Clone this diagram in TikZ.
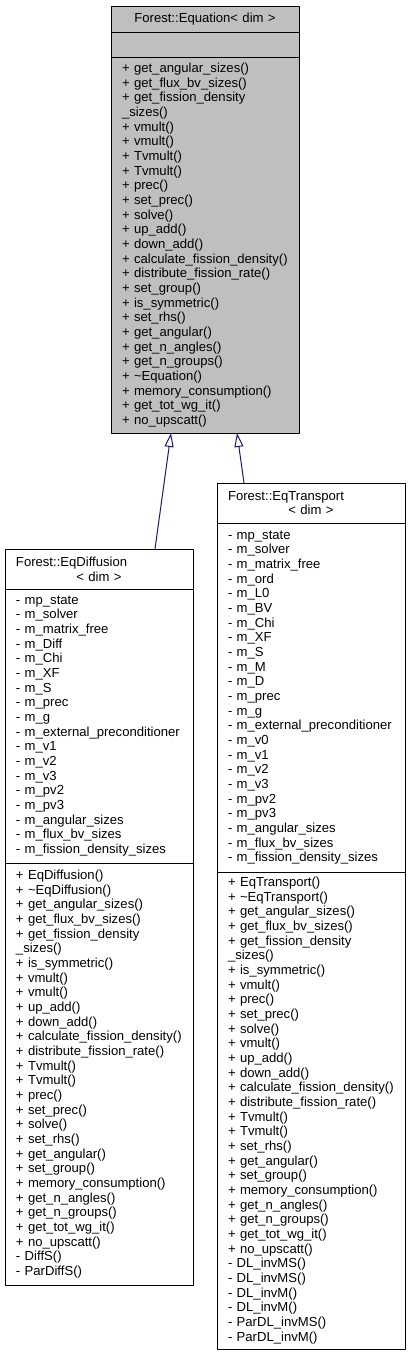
\documentclass[tikz,border=0pt]{standalone}
\usepackage{fontspec}
\setmainfont{Liberation Sans}
\usetikzlibrary{positioning,arrows.meta}
\definecolor{boxgray}{HTML}{BFBFBF}
\definecolor{edgeblue}{HTML}{191970}

\begin{document}
\begin{tikzpicture}[x=1pt, y=-1pt, line join=round,
	font=\fontsize{13.1}{14.67}\selectfont,
	part/.style={draw=black, line width=1pt, minimum width=188pt, inner xsep=11pt, inner ysep=0pt, outer sep=0pt, text width=166pt, align=left},
	head/.style={part, align=center},
	inherit/.style={draw=edgeblue, line width=1pt, -{Triangle[open, length=14pt, width=9pt]}}]
	\useasboundingbox (0,0) rectangle (411,1357);

	% Base class Forest::Equation
	\node[head, fill=boxgray, anchor=north, minimum height=26pt] (eqT) at (205,6) {Forest::Equation< dim >};
	\node[part, fill=boxgray, below=0pt of eqT, minimum height=25pt] (eqA) {};
	\node[part, fill=boxgray, below=0pt of eqA, minimum height=376pt] (eqM) {+~get\_angular\_sizes()\\+~get\_flux\_bv\_sizes()\\+~get\_fission\_density\\\_sizes()\\+~vmult()\\+~vmult()\\+~Tvmult()\\+~Tvmult()\\+~prec()\\+~set\_prec()\\+~solve()\\+~up\_add()\\+~down\_add()\\+~calculate\_fission\_density()\\+~distribute\_fission\_rate()\\+~set\_group()\\+~is\_symmetric()\\+~set\_rhs()\\+~get\_angular()\\+~get\_n\_angles()\\+~get\_n\_groups()\\+~\textasciitilde Equation()\\+~memory\_consumption()\\+~get\_tot\_wg\_it()\\+~no\_upscatt()};

	% Derived class Forest::EqDiffusion
	\node[head, anchor=north, minimum height=40pt] (difT) at (99,549) {\makebox[166pt][l]{Forest::EqDiffusion}\\< dim >};
	\node[part, below=0pt of difT, minimum height=274pt] (difA) {-~mp\_state\\-~m\_solver\\-~m\_matrix\_free\\-~m\_Diff\\-~m\_Chi\\-~m\_XF\\-~m\_S\\-~m\_prec\\-~m\_g\\-~m\_external\_preconditioner\\-~m\_v1\\-~m\_v2\\-~m\_v3\\-~m\_pv2\\-~m\_pv3\\-~m\_angular\_sizes\\-~m\_flux\_bv\_sizes\\-~m\_fission\_density\_sizes};
	\node[part, below=0pt of difA, minimum height=422pt] (difM) {+~EqDiffusion()\\+~\textasciitilde EqDiffusion()\\+~get\_angular\_sizes()\\+~get\_flux\_bv\_sizes()\\+~get\_fission\_density\\\_sizes()\\+~is\_symmetric()\\+~vmult()\\+~vmult()\\+~up\_add()\\+~down\_add()\\+~calculate\_fission\_density()\\+~distribute\_fission\_rate()\\+~Tvmult()\\+~Tvmult()\\+~prec()\\+~set\_prec()\\+~solve()\\+~set\_rhs()\\+~get\_angular()\\+~set\_group()\\+~memory\_consumption()\\+~get\_n\_angles()\\+~get\_n\_groups()\\+~get\_tot\_wg\_it()\\+~no\_upscatt()\\-~DiffS()\\-~ParDiffS()};

	% Derived class Forest::EqTransport
	\node[head, anchor=north, minimum height=40pt] (trnT) at (311,483) {\makebox[166pt][l]{Forest::EqTransport}\\< dim >};
	\node[part, below=0pt of trnT, minimum height=349pt] (trnA) {-~mp\_state\\-~m\_solver\\-~m\_matrix\_free\\-~m\_ord\\-~m\_L0\\-~m\_BV\\-~m\_Chi\\-~m\_XF\\-~m\_S\\-~m\_M\\-~m\_D\\-~m\_prec\\-~m\_g\\-~m\_external\_preconditioner\\-~m\_v0\\-~m\_v1\\-~m\_v2\\-~m\_v3\\-~m\_pv2\\-~m\_pv3\\-~m\_angular\_sizes\\-~m\_flux\_bv\_sizes\\-~m\_fission\_density\_sizes};
	\node[part, below=0pt of trnA, minimum height=477pt] (trnM) {+~EqTransport()\\+~\textasciitilde EqTransport()\\+~get\_angular\_sizes()\\+~get\_flux\_bv\_sizes()\\+~get\_fission\_density\\\_sizes()\\+~is\_symmetric()\\+~vmult()\\+~prec()\\+~set\_prec()\\+~solve()\\+~vmult()\\+~up\_add()\\+~down\_add()\\+~calculate\_fission\_density()\\+~distribute\_fission\_rate()\\+~Tvmult()\\+~Tvmult()\\+~set\_rhs()\\+~get\_angular()\\+~set\_group()\\+~memory\_consumption()\\+~get\_n\_angles()\\+~get\_n\_groups()\\+~get\_tot\_wg\_it()\\+~no\_upscatt()\\-~DL\_invMS()\\-~DL\_invMS()\\-~DL\_invM()\\-~DL\_invM()\\-~ParDL\_invMS()\\-~ParDL\_invM()};

	% Inheritance arrows
	\draw[inherit] ([xshift=56pt]difT.north) -- ([xshift=-34pt]eqM.south);
	\draw[inherit] ([xshift=-67pt]trnT.north) -- ([xshift=32pt]eqM.south);
\end{tikzpicture}
\end{document}
